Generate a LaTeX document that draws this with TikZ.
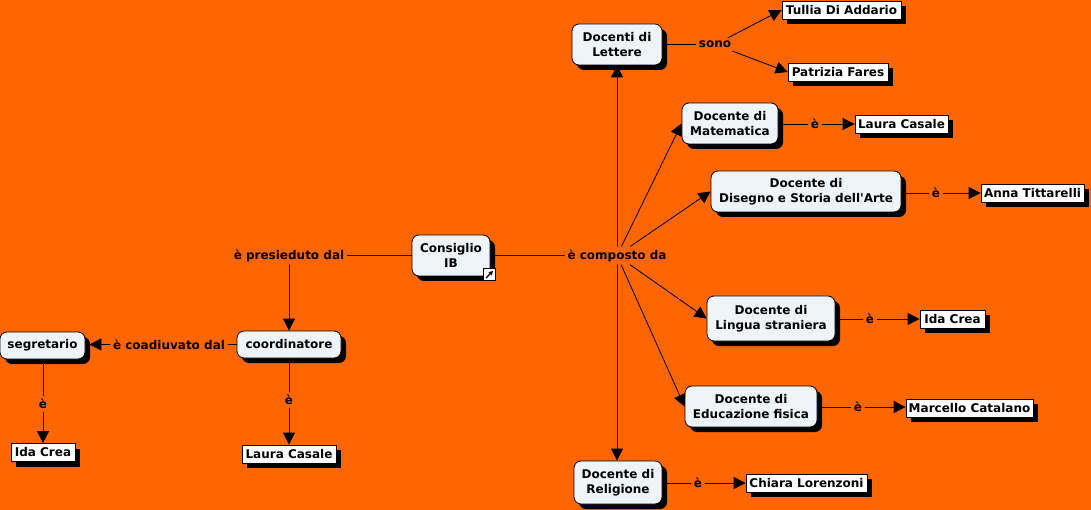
\documentclass[tikz,border=0pt]{standalone}
\usepackage{fontspec}
\setmainfont{DejaVu Sans}
\usetikzlibrary{arrows.meta,shadows}
\definecolor{sfondo}{HTML}{FF6600}
\definecolor{casella}{HTML}{EEF4F7}
\tikzset{
  concetto/.style={draw=black,line width=0.8pt,fill=casella,rounded corners=7pt,align=center,inner sep=0pt,
    font=\fontsize{12}{15}\selectfont\bfseries,
    drop shadow={shadow xshift=5pt,shadow yshift=-5pt,fill=black,opacity=1}},
  foglia/.style={draw=black,line width=0.8pt,fill=white,inner sep=0pt,
    font=\fontsize{12}{13}\selectfont\bfseries,
    drop shadow={shadow xshift=5pt,shadow yshift=-5pt,fill=black,opacity=1}},
  legame/.style={inner sep=3pt,font=\fontsize{12}{13}\selectfont\bfseries},
  filo/.style={line width=0.8pt},
  freccia/.style={-{Triangle[length=12pt,width=12pt]},line width=0.8pt}
}
\begin{document}
\begin{tikzpicture}[x=1pt,y=-1pt,line cap=round,line join=round]
  \fill[sfondo] (0,0) rectangle (1091,510);
  \useasboundingbox (0,0) rectangle (1091,510);
  % concetti
  \node[concetto,minimum width=78pt,minimum height=41pt] (consiglio) at (451,255.5) {Consiglio\\IB};
  \node[concetto,minimum width=90pt,minimum height=41pt] (lettere) at (617,44.5) {Docenti di\\Lettere};
  \node[concetto,minimum width=96pt,minimum height=41pt] (matematica) at (730,123.5) {Docente di\\Matematica};
  \node[concetto,minimum width=190pt,minimum height=41pt] (disegno) at (806,191.5) {Docente di\\Disegno e Storia dell\textquotesingle Arte};
  \node[concetto,minimum width=128pt,minimum height=45pt] (lingua) at (771,318.5) {Docente di\\Lingua straniera};
  \node[concetto,minimum width=132pt,minimum height=41pt] (educazione) at (751,406.5) {Docente di\\Educazione fisica};
  \node[concetto,minimum width=88pt,minimum height=43pt] (religione) at (618,482.5) {Docente di\\Religione};
  \node[concetto,minimum width=104pt,minimum height=27pt] (coordinatore) at (289,344.5) {coordinatore};
  \node[concetto,minimum width=85pt,minimum height=27pt] (segretario) at (42.5,345.5) {segretario};
  % nomi
  \node[foglia,minimum width=119pt,minimum height=18pt] (tullia) at (841.5,10) {Tullia Di Addario};
  \node[foglia,minimum width=100pt,minimum height=18pt] (patrizia) at (838,72) {Patrizia Fares};
  \node[foglia,minimum width=93pt,minimum height=18pt] (casalem) at (901.5,124) {Laura Casale};
  \node[foglia,minimum width=103pt,minimum height=18pt] (anna) at (1032.5,193) {Anna Tittarelli};
  \node[foglia,minimum width=65pt,minimum height=18pt] (creal) at (952.5,319) {Ida Crea};
  \node[foglia,minimum width=127pt,minimum height=18pt] (marcello) at (969.5,408) {Marcello Catalano};
  \node[foglia,minimum width=121pt,minimum height=18pt] (chiara) at (806.5,483) {Chiara Lorenzoni};
  \node[foglia,minimum width=64pt,minimum height=18pt] (creas) at (43,452.5) {Ida Crea};
  \node[foglia,minimum width=94pt,minimum height=18pt] (casalec) at (289,454) {Laura Casale};
  % legami
  \node[legame] (presieduto) at (289,255.5) {è presieduto dal};
  \node[legame] (composto) at (617,255.5) {è composto da};
  \node[legame] (sono) at (715,44.5) {sono};
  \node[legame] (coadiuvato) at (169,344.5) {è coadiuvato dal};
  \foreach \nome/\x/\y in {em/815/124,ea/936/193,el/870/319,ee/858/407,er/698/483,es/43/404,ec/289/400}
    \node[legame] (\nome) at (\x,\y) {è};
  % connettori
  \draw[filo] (consiglio) -- (presieduto);
  \draw[filo] (consiglio) -- (composto);
  \draw[filo] (lettere) -- (sono);
  \draw[filo] (coordinatore) -- (coadiuvato);
  \draw[freccia] (presieduto) -- (coordinatore.north);
  \draw[freccia] (composto) -- (lettere.south);
  \draw[freccia] (composto) -- (composto |- religione.north);
  \foreach \dest in {matematica,disegno,lingua,educazione}
    \draw[freccia] (composto) -- (\dest.west);
  \draw[freccia,shorten >=4pt] (coadiuvato) -- (coadiuvato -| segretario.east);
  \draw[freccia] (sono) -- (tullia.west);
  \draw[freccia] (sono) -- (patrizia.west);
  \foreach \a/\b/\c in {matematica/em/casalem,disegno/ea/anna,lingua/el/creal,educazione/ee/marcello,religione/er/chiara}{
    \draw[filo] (\b -| \a.east) -- (\b);
    \draw[freccia] (\b) -- (\b -| \c.west);
  }
  \draw[filo] (es |- segretario.south) -- (es);
  \draw[freccia] (es) -- (creas.north);
  \draw[filo] (coordinatore) -- (ec);
  \draw[freccia] (ec) -- (casalec.north);
  % icona del collegamento
  \node[draw=black,fill=white,line width=0.8pt,minimum size=12pt,inner sep=0pt] (icona) at (489.5,274.5) {};
  \draw[-{Triangle[length=4pt,width=4.5pt]},line width=1.4pt,line cap=butt] ([shift={(-3.5,3.5)}]icona.center) -- ([shift={(3.5,-3.5)}]icona.center);
\end{tikzpicture}
\end{document}
